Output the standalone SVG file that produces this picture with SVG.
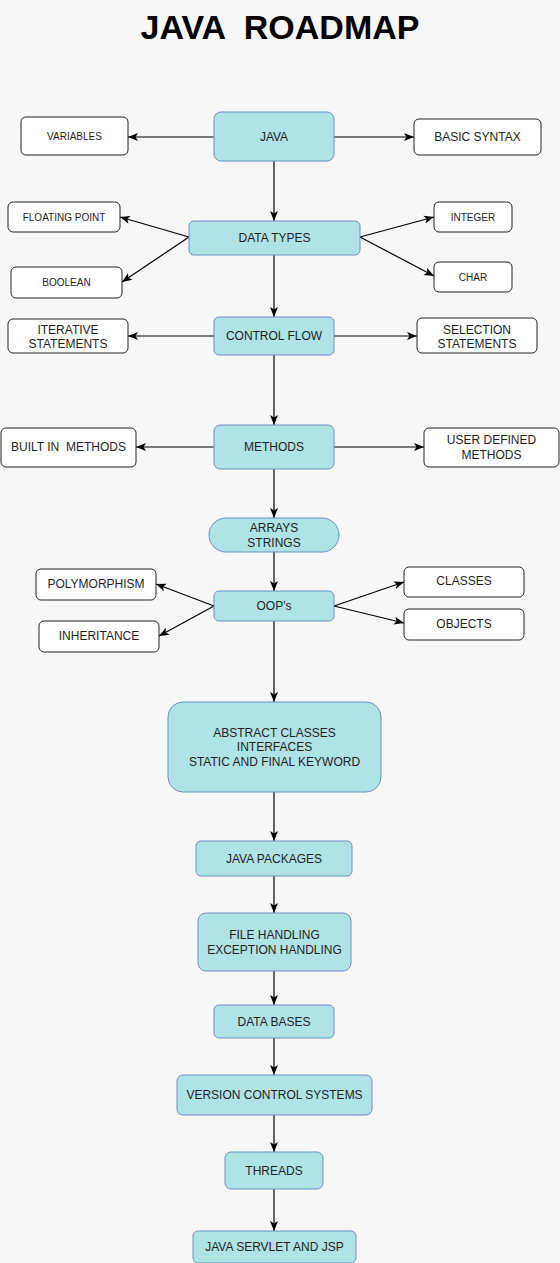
<svg xmlns="http://www.w3.org/2000/svg" width="560" height="1263" viewBox="0 0 560 1263">
<style>
.bg{fill:#f7f7f7}
.blue{fill:#b0e3e6;stroke:#6c8ebf;stroke-width:1}
.white{fill:#ffffff;stroke:#222222;stroke-width:1}
text{font-family:"Liberation Sans",Arial,sans-serif;fill:#1e1e1e;text-anchor:middle}
.t12{font-size:12px}
.t10{font-size:10px}
.title{font-size:34px;font-weight:bold;fill:#000}
.conn line{stroke:#000;stroke-width:1.2;marker-end:url(#arr)}
</style>
<defs>
<marker id="arr" markerUnits="userSpaceOnUse" markerWidth="10" markerHeight="10" viewBox="0 0 10 10" refX="10" refY="5" orient="auto">
<path d="M0,1 L10,5 L0,9 L2.5,5 z" fill="#000"/>
</marker>
</defs>
<rect class="bg" x="0" y="0" width="560" height="1263"/>
<text class="title" x="280" y="39" xml:space="preserve">JAVA  ROADMAP</text>

<g id="connectors" class="conn">
<line x1="274" y1="161" x2="274" y2="221"/>
<line x1="274" y1="255" x2="274" y2="317"/>
<line x1="274" y1="355" x2="274" y2="425"/>
<line x1="274" y1="469" x2="274" y2="518"/>
<line x1="274" y1="552" x2="274" y2="591"/>
<line x1="274" y1="621" x2="274" y2="702"/>
<line x1="274" y1="792" x2="274" y2="841"/>
<line x1="274" y1="876" x2="274" y2="913"/>
<line x1="274" y1="971" x2="274" y2="1005"/>
<line x1="274" y1="1038" x2="274" y2="1075"/>
<line x1="274" y1="1115" x2="274" y2="1152"/>
<line x1="274" y1="1189" x2="274" y2="1231"/>
<line x1="214" y1="137" x2="128" y2="137"/>
<line x1="334" y1="137" x2="414" y2="137"/>
<line x1="214" y1="336" x2="128" y2="336"/>
<line x1="334" y1="336" x2="417" y2="336"/>
<line x1="214" y1="447" x2="136" y2="447"/>
<line x1="334" y1="447" x2="424" y2="447"/>
<line x1="189" y1="237" x2="120" y2="217"/>
<line x1="189" y1="237" x2="122" y2="282"/>
<line x1="360" y1="237" x2="434" y2="217"/>
<line x1="360" y1="237" x2="434" y2="276"/>
<line x1="214" y1="606" x2="156" y2="584"/>
<line x1="214" y1="606" x2="159" y2="636"/>
<line x1="334" y1="606" x2="404" y2="582"/>
<line x1="334" y1="606" x2="404" y2="623"/>
</g>

<g id="java"><rect class="blue" x="214" y="112" width="120" height="49" rx="7"/><text class="t12" x="274" y="141">JAVA</text></g>
<g id="variables"><rect class="white" x="21" y="117" width="107" height="38" rx="5"/><text class="t10" x="74.5" y="139.5">VARIABLES</text></g>
<g id="basic-syntax"><rect class="white" x="414" y="119" width="127" height="36" rx="5"/><text class="t12" x="477.5" y="141">BASIC SYNTAX</text></g>

<g id="data-types"><rect class="blue" x="189" y="221" width="171" height="34" rx="5"/><text class="t12" x="274.5" y="242">DATA TYPES</text></g>
<g id="floating-point"><rect class="white" x="8" y="202" width="112" height="30" rx="5"/><text class="t10" x="64" y="220.5">FLOATING POINT</text></g>
<g id="boolean"><rect class="white" x="11" y="267" width="111" height="31" rx="5"/><text class="t10" x="66.5" y="286">BOOLEAN</text></g>
<g id="integer"><rect class="white" x="434" y="202" width="78" height="30" rx="5"/><text class="t10" x="473" y="220.5">INTEGER</text></g>
<g id="char"><rect class="white" x="434" y="262" width="78" height="30" rx="5"/><text class="t10" x="473" y="280.5">CHAR</text></g>

<g id="control-flow"><rect class="blue" x="214" y="317" width="120" height="38" rx="5"/><text class="t12" x="274" y="340">CONTROL FLOW</text></g>
<g id="iterative"><rect class="white" x="8" y="319" width="120" height="34" rx="5"/><text class="t12" x="68" y="334">ITERATIVE</text><text class="t12" x="68" y="348">STATEMENTS</text></g>
<g id="selection"><rect class="white" x="417" y="318" width="120" height="35" rx="5"/><text class="t12" x="477" y="334">SELECTION</text><text class="t12" x="477" y="348">STATEMENTS</text></g>

<g id="methods"><rect class="blue" x="214" y="425" width="120" height="44" rx="6"/><text class="t12" x="274" y="451">METHODS</text></g>
<g id="built-in"><rect class="white" x="1" y="428" width="135" height="39" rx="5"/><text class="t12" x="68.5" y="451" xml:space="preserve">BUILT IN  METHODS</text></g>
<g id="user-defined"><rect class="white" x="424" y="428" width="135" height="39" rx="5"/><text class="t12" x="491.5" y="444">USER DEFINED</text><text class="t12" x="491.5" y="459">METHODS</text></g>

<g id="arrays-strings"><rect class="blue" x="209" y="518" width="130" height="34" rx="17"/><text class="t12" x="274" y="532">ARRAYS</text><text class="t12" x="274" y="547">STRINGS</text></g>

<g id="oops"><rect class="blue" x="214" y="591" width="120" height="30" rx="5"/><text class="t12" x="274" y="610">OOP's</text></g>
<g id="polymorphism"><rect class="white" x="36" y="569" width="120" height="31" rx="5"/><text class="t12" x="96" y="588">POLYMORPHISM</text></g>
<g id="inheritance"><rect class="white" x="39" y="621" width="120" height="31" rx="5"/><text class="t12" x="99" y="640">INHERITANCE</text></g>
<g id="classes"><rect class="white" x="404" y="567" width="120" height="30" rx="5"/><text class="t12" x="464" y="585">CLASSES</text></g>
<g id="objects"><rect class="white" x="404" y="609" width="120" height="31" rx="5"/><text class="t12" x="464" y="628">OBJECTS</text></g>

<g id="abstract"><rect class="blue" x="168" y="702" width="213" height="90" rx="15"/><text class="t12" x="274.5" y="737">ABSTRACT CLASSES</text><text class="t12" x="274.5" y="751">INTERFACES</text><text class="t12" x="274.5" y="766">STATIC AND FINAL KEYWORD</text></g>
<g id="java-packages"><rect class="blue" x="196" y="841" width="156" height="35" rx="5"/><text class="t12" x="274" y="863">JAVA PACKAGES</text></g>
<g id="file-handling"><rect class="blue" x="198" y="913" width="153" height="58" rx="8"/><text class="t12" x="274.5" y="938.5">FILE HANDLING</text><text class="t12" x="274.5" y="953.5">EXCEPTION HANDLING</text></g>
<g id="data-bases"><rect class="blue" x="214" y="1005" width="120" height="33" rx="5"/><text class="t12" x="274" y="1026">DATA BASES</text></g>
<g id="vcs"><rect class="blue" x="177" y="1075" width="195" height="40" rx="6"/><text class="t12" x="274.5" y="1099">VERSION CONTROL SYSTEMS</text></g>
<g id="threads"><rect class="blue" x="225" y="1152" width="98" height="37" rx="6"/><text class="t12" x="274" y="1175">THREADS</text></g>
<g id="servlet"><rect class="blue" x="193" y="1231" width="163" height="32" rx="5"/><text class="t12" x="274.5" y="1251">JAVA SERVLET AND JSP</text></g>
</svg>
